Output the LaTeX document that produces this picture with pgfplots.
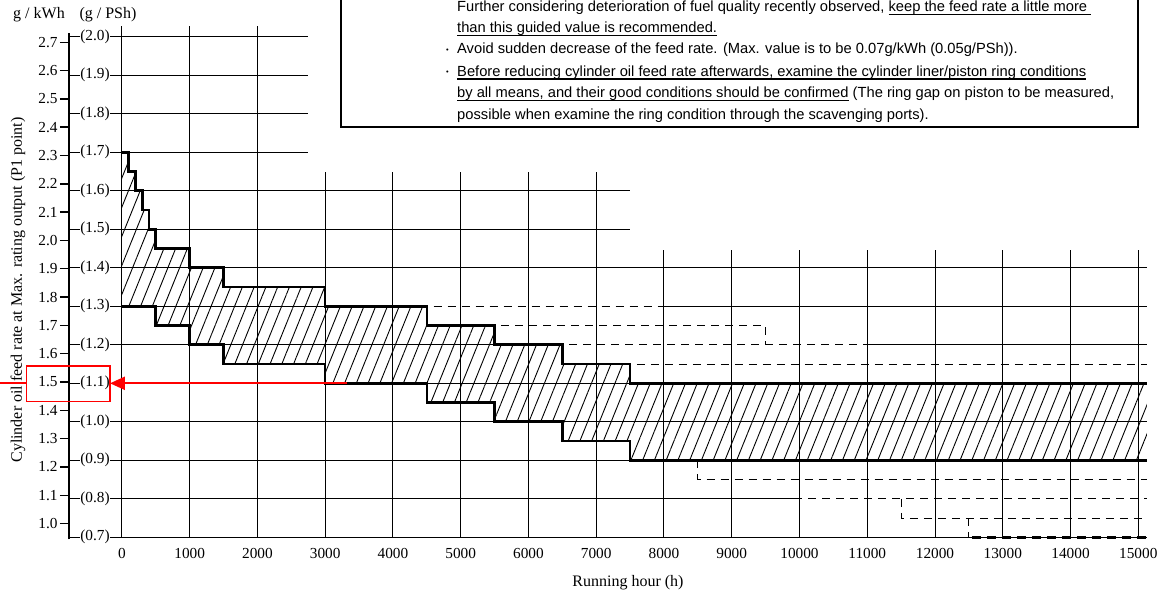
\documentclass[border=0pt]{standalone}
\usepackage{pgfplots}
\pgfplotsset{compat=1.18}
\usetikzlibrary{patterns.meta,arrows.meta}
\usepackage{fontspec}
\setmainfont{Liberation Serif}
\newfontfamily\boxfont{Liberation Sans}
\newsavebox\ulbox
\newcommand\ul[1]{\leavevmode\sbox\ulbox{#1}\rlap{\rule[-3.2pt]{\wd\ulbox}{1.3pt}}\usebox\ulbox}
\newcommand\tickfont{\fontsize{15.3}{17}\selectfont}
\newcommand\labfont{\fontsize{16}{18}\selectfont}
\newcommand\bfnt{\boxfont\fontsize{14.7}{17}\selectfont}
\newcommand\bul{{\boxfont\fontsize{7.5}{8}\selectfont\raisebox{1.6pt}{•}}}
\tikzset{gridl/.style={line width=1pt, black},
         dsh/.style={line width=1pt, black, dash pattern=on 8pt off 6pt}}
% g/kWh tick: label, position in g/PSh
\newcommand\kw[2]{\draw[line width=1.4pt] (axis cs:-914,#2) -- (axis cs:-781,#2);
  \node[anchor=east, inner sep=0pt, font=\tickfont] at (axis cs:-946,#2) {#1};}

\begin{document}
\begin{tikzpicture}[x=1pt,y=1pt]
\begin{axis}[
  scale only axis,
  width=1016.4pt, height=500.5pt,
  xmin=0, xmax=15000, ymin=0.7, ymax=2.0, clip=false,
  axis line style={draw=none}, tick style={draw=none}, major tick length=0pt,
  scaled x ticks=false,
  xtick={0,1000,2000,3000,4000,5000,6000,7000,8000,9000,10000,11000,12000,13000,14000,15000},
  xticklabels={0,1000,2000,3000,4000,5000,6000,7000,8000,9000,10000,11000,12000,13000,14000,15000},
  ytick={0.7,0.8,0.9,1.0,1.1,1.2,1.3,1.4,1.5,1.6,1.7,1.8,1.9,2.0},
  yticklabels={(0.7),(0.8),(0.9),(1.0),(1.1),(1.2),(1.3),(1.4),(1.5),(1.6),(1.7),(1.8),(1.9),(2.0)},
  xticklabel style={font=\tickfont, anchor=north, inner sep=0pt, yshift=-10.5pt},
  yticklabel style={font=\tickfont, anchor=east, inner sep=0pt, xshift=-12pt},
]
\coordinate (O) at (axis cs:0,0.7);
% hatched band
\addplot[draw=none, pattern={Lines[angle=68,distance=10.9pt,line width=0.9pt]}] coordinates {
 (0,1.70) (100,1.70) (100,1.65) (200,1.65) (200,1.60) (300,1.60) (300,1.55) (400,1.55)
 (400,1.50) (500,1.50) (500,1.45) (1000,1.45) (1000,1.40) (1500,1.40) (1500,1.35)
 (3000,1.35) (3000,1.30) (4500,1.30) (4500,1.25) (5500,1.25) (5500,1.20) (6500,1.20)
 (6500,1.15) (7500,1.15) (7500,1.10) (15125,1.10)
 (15125,0.90) (7500,0.90) (7500,0.95) (6500,0.95) (6500,1.00) (5500,1.00) (5500,1.05)
 (4500,1.05) (4500,1.10) (3000,1.10) (3000,1.15) (1500,1.15) (1500,1.20) (1000,1.20)
 (1000,1.25) (500,1.25) (500,1.30) (0,1.30)} -- cycle;

% grid: verticals
\pgfplotsinvokeforeach{0,1000,2000}{\draw[gridl] (axis cs:#1,0.7) -- (axis cs:#1,2.028);}
\pgfplotsinvokeforeach{3000,4000,5000,6000,7000}{\draw[gridl] (axis cs:#1,0.7) -- (axis cs:#1,1.648);}
\pgfplotsinvokeforeach{8000,9000,10000,11000,12000,13000,14000,15000}{\draw[gridl] (axis cs:#1,0.7) -- (axis cs:#1,1.445);}
% grid: horizontals
\pgfplotsinvokeforeach{2.0,1.9,1.8,1.7}{\draw[gridl] (axis cs:-176,#1) -- (axis cs:2740,#1);}
\pgfplotsinvokeforeach{1.6,1.5}{\draw[gridl] (axis cs:-176,#1) -- (axis cs:7500,#1);}
\pgfplotsinvokeforeach{1.4,1.1,1.0,0.9,0.7}{\draw[gridl] (axis cs:-176,#1) -- (axis cs:15125,#1);}
\draw[gridl] (axis cs:-176,1.3) -- (axis cs:4500,1.3);
\draw[gridl] (axis cs:8000,1.3) -- (axis cs:15125,1.3);
\draw[gridl] (axis cs:-176,1.2) -- (axis cs:6500,1.2);
\draw[gridl] (axis cs:11000,1.2) -- (axis cs:15125,1.2);
\draw[gridl] (axis cs:-176,0.8) -- (axis cs:10000,0.8);
% left dashes of the (g/PSh) ticks
\pgfplotsinvokeforeach{0.7,0.8,0.9,1.0,1.1,1.2,1.3,1.4,1.5,1.6,1.7,1.8,1.9,2.0}{\draw[line width=1.3pt] (axis cs:-781,#1) -- (axis cs:-618,#1);}
% g/kWh scale
\draw[line width=1.4pt] (axis cs:-781,0.6948) -- (axis cs:-781,2.0091);
\kw{1.0}{0.7355}\kw{1.1}{0.8091}\kw{1.2}{0.8826}\kw{1.3}{0.9562}\kw{1.4}{1.0297}
\kw{1.5}{1.1033}\kw{1.6}{1.1768}\kw{1.7}{1.2504}\kw{1.8}{1.3239}\kw{1.9}{1.3975}
\kw{2.0}{1.4710}\kw{2.1}{1.5446}\kw{2.2}{1.6181}\kw{2.3}{1.6917}\kw{2.4}{1.7652}
\kw{2.5}{1.8388}\kw{2.6}{1.9123}\kw{2.7}{1.9859}

% boundaries of recommended band
\addplot[line width=2.6pt, black] coordinates {
 (0,1.70) (100,1.70) (100,1.65) (200,1.65) (200,1.60) (300,1.60) (300,1.55) (400,1.55)
 (400,1.50) (500,1.50) (500,1.45) (1000,1.45) (1000,1.40) (1500,1.40) (1500,1.35)
 (3000,1.35) (3000,1.30) (4500,1.30) (4500,1.25) (5500,1.25) (5500,1.20) (6500,1.20)
 (6500,1.15) (7500,1.15) (7500,1.10) (15125,1.10)};
\addplot[line width=2.6pt, black] coordinates {
 (0,1.30) (500,1.30) (500,1.25) (1000,1.25) (1000,1.20) (1500,1.20) (1500,1.15)
 (3000,1.15) (3000,1.10) (4500,1.10) (4500,1.05) (5500,1.05) (5500,1.00) (6500,1.00)
 (6500,0.95) (7500,0.95) (7500,0.90) (15125,0.90)};

% dashed alternatives (upper)
\addplot[dsh] coordinates {(4600,1.30) (8000,1.30) (8000,1.25)};
\addplot[dsh] coordinates {(5600,1.25) (9500,1.25) (9500,1.20)};
\addplot[dsh] coordinates {(6600,1.20) (11000,1.20) (11000,1.15)};
\addplot[dsh] coordinates {(7600,1.15) (15125,1.15)};
% dashed alternatives (lower)
\addplot[dsh] coordinates {(8500,0.90) (8500,0.85) (15125,0.85)};
\addplot[dsh] coordinates {(10000,0.85) (10000,0.80) (15125,0.80)};
\addplot[dsh] coordinates {(11500,0.80) (11500,0.75) (15125,0.75)};
\addplot[dsh] coordinates {(12500,0.75) (12500,0.70)};
\addplot[line width=2.8pt, black, dash pattern=on 9pt off 6pt] coordinates {(12550,0.70) (15125,0.70)};

% red arrow
\draw[red, line width=2.2pt, -{Triangle[length=15pt,width=13pt]}] (axis cs:3322,1.1) -- (axis cs:-176,1.1);
\end{axis}

\begin{scope}[shift={(O)}, xshift=-121.9pt, yshift=-58.7pt]
% red frame around 1.5 (1.1)
\draw[red, line width=1.5pt] (26.7,194.3) rectangle (110,230);
\draw[red, line width=1.8pt] (0,212.7) -- (26.7,212.7);

% axis titles
\node[font=\labfont] at (39,581) {g / kWh};
\node[font=\labfont] at (108,581) {(g / PSh)};
\node[font=\labfont, rotate=90] at (18,306) {Cylinder oil feed rate at Max. rating output (P1 point)};
\node[font=\labfont] at (628,13) {Running hour (h)};

% note box
\draw[line width=1.4pt] (341,602) -- (341,469) -- (1138,469) -- (1138,602);
\node[anchor=base west, inner sep=0pt, font=\bfnt] at (457,584) {Further considering deterioration of fuel quality recently observed, \ul{keep the feed rate a little more\ }};
\node[anchor=base west, inner sep=0pt, font=\bfnt] at (457,563) {\ul{than this guided value is recommended.}};
\node[anchor=base west, inner sep=0pt] at (446,542) {\bul};
\node[anchor=base west, inner sep=0pt, font=\bfnt] at (457,542) {Avoid sudden decrease of the feed rate. (Max. value is to be 0.07g/kWh (0.05g/PSh)).};
\node[anchor=base west, inner sep=0pt] at (446,519.5) {\bul};
\node[anchor=base west, inner sep=0pt, font=\bfnt] at (457,519.5) {\ul{Before reducing cylinder oil feed rate afterwards, examine the cylinder liner/piston ring conditions}};
\node[anchor=base west, inner sep=0pt, font=\bfnt] at (457,498) {\ul{by all means, and their good conditions should be confirmed} (The ring gap on piston to be measured,};
\node[anchor=base west, inner sep=0pt, font=\bfnt] at (457,476.5) {possible when examine the ring condition through the scavenging ports).};

\pgfresetboundingbox
\path[use as bounding box] (0,0) rectangle (1165,596);
\end{scope}
\end{tikzpicture}
\end{document}
